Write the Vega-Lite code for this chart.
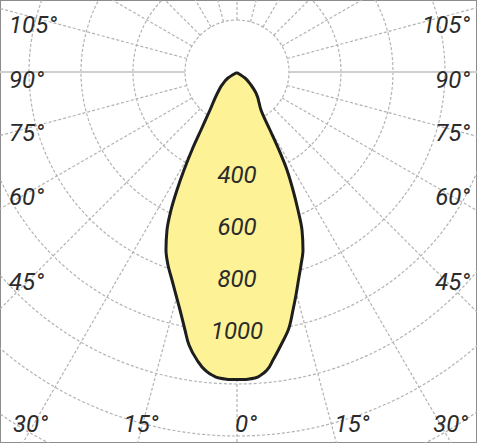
{
  "$schema": "https://vega.github.io/schema/vega-lite/v6.json",
  "width": 477,
  "height": 443,
  "autosize": {"type": "fit", "contains": "padding"},
  "padding": 0,
  "background": "white",
  "config": {
    "view": {"stroke": "#8c8c8c", "strokeWidth": 2},
    "text": {"font": "Roboto", "fontStyle": "italic", "fontSize": 24, "color": "#2b2b2b", "baseline": "middle"}
  },
  "datasets": {
    "rings": [
      {"r": 200}, {"r": 400}, {"r": 600}, {"r": 800}, {"r": 1000},
      {"r": 1200}, {"r": 1400}, {"r": 1600}, {"r": 1800}
    ],
    "rays": [
      {"a": 0, "x": 0, "y": -200, "x2": 0, "y2": -2000},
      {"a": 15, "x": 51.8, "y": -193.2, "x2": 517.6, "y2": -1931.9},
      {"a": 30, "x": 100, "y": -173.2, "x2": 1000, "y2": -1732.1},
      {"a": 45, "x": 141.4, "y": -141.4, "x2": 1414.2, "y2": -1414.2},
      {"a": 60, "x": 173.2, "y": -100, "x2": 1732.1, "y2": -1000},
      {"a": 75, "x": 193.2, "y": -51.8, "x2": 1931.9, "y2": -517.6},
      {"a": 90, "x": 200, "y": 0, "x2": 2000, "y2": 0},
      {"a": 105, "x": 193.2, "y": 51.8, "x2": 1931.9, "y2": 517.6},
      {"a": 120, "x": 173.2, "y": 100, "x2": 1732.1, "y2": 1000},
      {"a": 135, "x": 141.4, "y": 141.4, "x2": 1414.2, "y2": 1414.2},
      {"a": 150, "x": 100, "y": 173.2, "x2": 1000, "y2": 1732.1},
      {"a": 165, "x": 51.8, "y": 193.2, "x2": 517.6, "y2": 1931.9},
      {"a": 180, "x": 0, "y": 200, "x2": 0, "y2": 2000},
      {"a": -15, "x": -51.8, "y": -193.2, "x2": -517.6, "y2": -1931.9},
      {"a": -30, "x": -100, "y": -173.2, "x2": -1000, "y2": -1732.1},
      {"a": -45, "x": -141.4, "y": -141.4, "x2": -1414.2, "y2": -1414.2},
      {"a": -60, "x": -173.2, "y": -100, "x2": -1732.1, "y2": -1000},
      {"a": -75, "x": -193.2, "y": -51.8, "x2": -1931.9, "y2": -517.6},
      {"a": -90, "x": -200, "y": 0, "x2": -2000, "y2": 0},
      {"a": -105, "x": -193.2, "y": 51.8, "x2": -1931.9, "y2": 517.6},
      {"a": -120, "x": -173.2, "y": 100, "x2": -1732.1, "y2": 1000},
      {"a": -135, "x": -141.4, "y": 141.4, "x2": -1414.2, "y2": 1414.2},
      {"a": -150, "x": -100, "y": 173.2, "x2": -1000, "y2": 1732.1},
      {"a": -165, "x": -51.8, "y": 193.2, "x2": -517.6, "y2": 1931.9}
    ],
    "curve": [
      {"y": -3.8, "xl": -3.8, "xr": 1.9},
      {"y": -23.1, "xl": -34.6, "xr": 30.8},
      {"y": -50, "xl": -57.7, "xr": 53.8},
      {"y": -80.8, "xl": -75, "xr": 73.1},
      {"y": -146.2, "xl": -103.8, "xr": 92.3},
      {"y": -223.1, "xl": -138.5, "xr": 126.9},
      {"y": -300, "xl": -173.1, "xr": 161.5},
      {"y": -376.9, "xl": -203.8, "xr": 192.3},
      {"y": -453.8, "xl": -230.8, "xr": 215.4},
      {"y": -530.8, "xl": -253.8, "xr": 234.6},
      {"y": -607.7, "xl": -269.2, "xr": 250},
      {"y": -684.6, "xl": -273.1, "xr": 253.8},
      {"y": -742.3, "xl": -265.4, "xr": 246.2},
      {"y": -800, "xl": -250, "xr": 236.5},
      {"y": -857.7, "xl": -234.6, "xr": 226.9},
      {"y": -915.4, "xl": -219.2, "xr": 215.4},
      {"y": -992.3, "xl": -200, "xr": 197.1},
      {"y": -1050, "xl": -184.6, "xr": 169.2},
      {"y": -1107.7, "xl": -153.8, "xr": 138.5},
      {"y": -1146.2, "xl": -123.1, "xr": 115.4},
      {"y": -1165.4, "xl": -96.2, "xr": 92.3},
      {"y": -1176.9, "xl": -69.2, "xr": 69.2},
      {"y": -1182.7, "xl": -34.6, "xr": 34.6}
    ],
    "angles": [
      {"t": "105°", "pos": "l", "x": -876.9, "y": 176.9},
      {"t": "90°", "pos": "l", "x": -876.9, "y": -34.6},
      {"t": "75°", "pos": "l", "x": -876.9, "y": -238.5},
      {"t": "60°", "pos": "l", "x": -876.9, "y": -484.6},
      {"t": "45°", "pos": "l", "x": -876.9, "y": -811.5},
      {"t": "30°", "pos": "l", "x": -861.5, "y": -1357.7},
      {"t": "15°", "pos": "c", "x": -369.2, "y": -1357.7},
      {"t": "0°", "pos": "c", "x": 34.6, "y": -1357.7},
      {"t": "15°", "pos": "c", "x": 442.3, "y": -1357.7},
      {"t": "30°", "pos": "r", "x": 888.5, "y": -1357.7},
      {"t": "45°", "pos": "r", "x": 896.2, "y": -811.5},
      {"t": "60°", "pos": "r", "x": 896.2, "y": -484.6},
      {"t": "75°", "pos": "r", "x": 896.2, "y": -238.5},
      {"t": "90°", "pos": "r", "x": 896.2, "y": -34.6},
      {"t": "105°", "pos": "r", "x": 896.2, "y": 176.9}
    ],
    "values": [
      {"t": "400", "y": -400},
      {"t": "600", "y": -600},
      {"t": "800", "y": -800},
      {"t": "1000", "y": -1000}
    ]
  },
  "layer": [
    {
      "data": {"name": "rings"},
      "mark": {"type": "arc", "theta": 0, "theta2": 6.3, "fillOpacity": 0, "stroke": "#b3b3b3", "strokeWidth": 1.2, "strokeDash": [3, 2], "clip": true},
      "encoding": {
        "x": {"datum": 0, "type": "quantitative", "scale": {"domain": [-911.5, 923.1], "nice": false, "zero": false}, "axis": null},
        "y": {"datum": 0, "type": "quantitative", "scale": {"domain": [-1426.9, 276.9], "nice": false, "zero": false}, "axis": null},
        "radius": {"field": "r", "type": "quantitative", "stack": null, "scale": {"type": "linear", "domain": [0, 1000], "range": [0, 260], "zero": true}, "legend": null}
      }
    },
    {
      "data": {"name": "rays"},
      "transform": [{"filter": "datum.a != 90 && datum.a != -90"}],
      "mark": {"type": "rule", "stroke": "#b3b3b3", "strokeWidth": 1.2, "strokeDash": [3, 2], "clip": true},
      "encoding": {
        "x": {"field": "x", "type": "quantitative", "scale": {"domain": [-911.5, 923.1], "nice": false, "zero": false}, "axis": null},
        "y": {"field": "y", "type": "quantitative", "scale": {"domain": [-1426.9, 276.9], "nice": false, "zero": false}, "axis": null},
        "x2": {"field": "x2"},
        "y2": {"field": "y2"}
      }
    },
    {
      "data": {"name": "rays"},
      "transform": [{"filter": "datum.a == 90 || datum.a == -90"}],
      "mark": {"type": "rule", "stroke": "#cfcfcf", "strokeWidth": 2, "clip": true},
      "encoding": {
        "x": {"field": "x", "type": "quantitative", "scale": {"domain": [-911.5, 923.1], "nice": false, "zero": false}, "axis": null},
        "y": {"field": "y", "type": "quantitative", "scale": {"domain": [-1426.9, 276.9], "nice": false, "zero": false}, "axis": null},
        "x2": {"field": "x2"},
        "y2": {"field": "y2"}
      }
    },
    {
      "data": {"name": "curve"},
      "mark": {"type": "area", "orient": "horizontal", "interpolate": "monotone", "fill": "#fdf396", "fillOpacity": 1, "stroke": "#1e1e1e", "strokeWidth": 3, "strokeJoin": "round"},
      "encoding": {
        "y": {"field": "y", "type": "quantitative", "scale": {"domain": [-1426.9, 276.9], "nice": false, "zero": false}, "axis": null},
        "x": {"field": "xl", "type": "quantitative", "scale": {"domain": [-911.5, 923.1], "nice": false, "zero": false}, "axis": null},
        "x2": {"field": "xr"}
      }
    },
    {
      "data": {"name": "values"},
      "mark": {"type": "text", "align": "center"},
      "encoding": {
        "x": {"datum": 0, "type": "quantitative", "scale": {"domain": [-911.5, 923.1], "nice": false, "zero": false}, "axis": null},
        "y": {"field": "y", "type": "quantitative", "scale": {"domain": [-1426.9, 276.9], "nice": false, "zero": false}, "axis": null},
        "text": {"field": "t"}
      }
    },
    {
      "data": {"name": "angles"},
      "transform": [{"filter": "datum.pos == 'l'"}],
      "mark": {"type": "text", "align": "left"},
      "encoding": {
        "x": {"field": "x", "type": "quantitative", "scale": {"domain": [-911.5, 923.1], "nice": false, "zero": false}, "axis": null},
        "y": {"field": "y", "type": "quantitative", "scale": {"domain": [-1426.9, 276.9], "nice": false, "zero": false}, "axis": null},
        "text": {"field": "t"}
      }
    },
    {
      "data": {"name": "angles"},
      "transform": [{"filter": "datum.pos == 'c'"}],
      "mark": {"type": "text", "align": "center"},
      "encoding": {
        "x": {"field": "x", "type": "quantitative", "scale": {"domain": [-911.5, 923.1], "nice": false, "zero": false}, "axis": null},
        "y": {"field": "y", "type": "quantitative", "scale": {"domain": [-1426.9, 276.9], "nice": false, "zero": false}, "axis": null},
        "text": {"field": "t"}
      }
    },
    {
      "data": {"name": "angles"},
      "transform": [{"filter": "datum.pos == 'r'"}],
      "mark": {"type": "text", "align": "right"},
      "encoding": {
        "x": {"field": "x", "type": "quantitative", "scale": {"domain": [-911.5, 923.1], "nice": false, "zero": false}, "axis": null},
        "y": {"field": "y", "type": "quantitative", "scale": {"domain": [-1426.9, 276.9], "nice": false, "zero": false}, "axis": null},
        "text": {"field": "t"}
      }
    }
  ]
}
